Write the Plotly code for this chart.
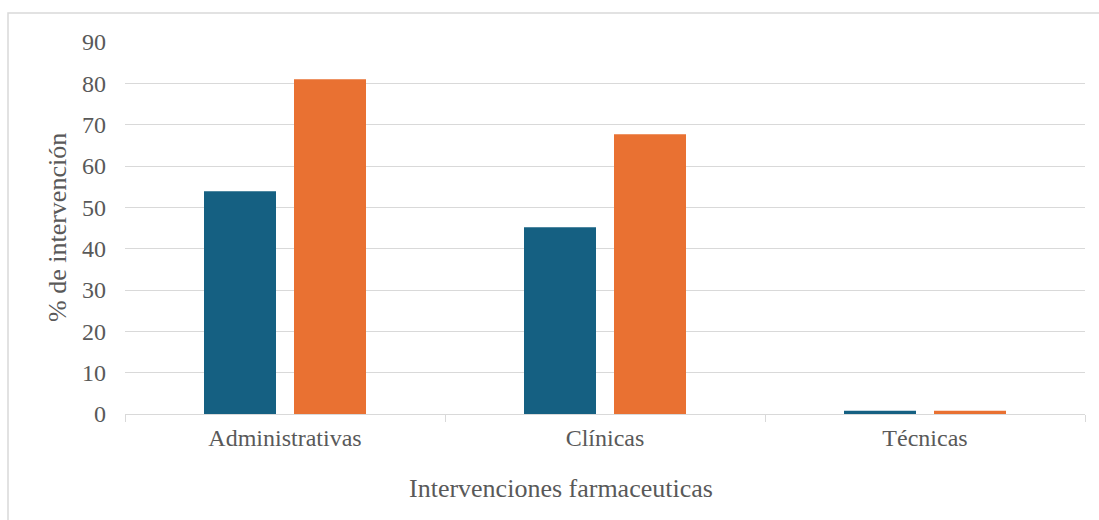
import plotly.graph_objects as go

# Tipos de intervención farmacéutica y porcentaje por serie
categorias = ["Administrativas", "Clínicas", "Técnicas"]
serie_1 = [53.9, 45.2, 0.8]
serie_2 = [81.0, 67.7, 0.8]
y_ticks = [0, 10, 20, 30, 40, 50, 60, 70, 80, 90]

AZUL = "#156082"
NARANJA = "#E97132"
TEXTO = "#595959"
REJILLA = "#D9D9D9"
FUENTE = "Liberation Serif, Times New Roman, serif"

fig = go.Figure()
fig.add_trace(go.Bar(x=categorias, y=serie_1, name="Serie 1",
                     marker=dict(color=AZUL, line=dict(width=0))))
fig.add_trace(go.Bar(x=categorias, y=serie_2, name="Serie 2",
                     marker=dict(color=NARANJA, line=dict(width=0))))

fig.update_layout(
    width=1099, height=520,
    margin=dict(l=125, r=14, t=42, b=106),
    paper_bgcolor="white", plot_bgcolor="white",
    barmode="group", bargap=0.4375, bargroupgap=0.2,
    showlegend=False,
    font=dict(family=FUENTE, color=TEXTO, size=24),
    xaxis=dict(
        type="category", tickson="boundaries", ticks="outside",
        ticklen=7, tickcolor=REJILLA, tickwidth=1,
        showline=True, linecolor=REJILLA, linewidth=1,
        showgrid=False, tickfont=dict(size=24, color=TEXTO),
        ticklabelstandoff=2,
    ),
    yaxis=dict(
        range=[0, 90], tickvals=y_ticks, showgrid=True,
        gridcolor=REJILLA, gridwidth=1, zeroline=False,
        showline=False, ticks="", tickfont=dict(size=24, color=TEXTO),
        ticklabelstandoff=18,
    ),
    annotations=[
        dict(text="Intervenciones farmaceuticas", xref="paper", yref="paper",
             x=(561 - 125) / 960, y=0, yshift=-74, showarrow=False,
             xanchor="center", yanchor="middle",
             font=dict(size=26, color=TEXTO, family=FUENTE)),
        dict(text="% de intervención", xref="paper", yref="paper",
             x=0, xshift=-68, y=(414 - 228) / 372, textangle=-90,
             showarrow=False, xanchor="center", yanchor="middle",
             font=dict(size=26, color=TEXTO, family=FUENTE)),
    ],
    shapes=[
        # marco exterior del gráfico
        dict(type="rect", xref="paper", yref="paper",
             x0=(8 - 125) / 960, x1=1.05, y0=-0.3, y1=1 + (42 - 13) / 372,
             line=dict(color=REJILLA, width=1.5), layer="below"),
    ],
)

fig.write_html("out.html")
